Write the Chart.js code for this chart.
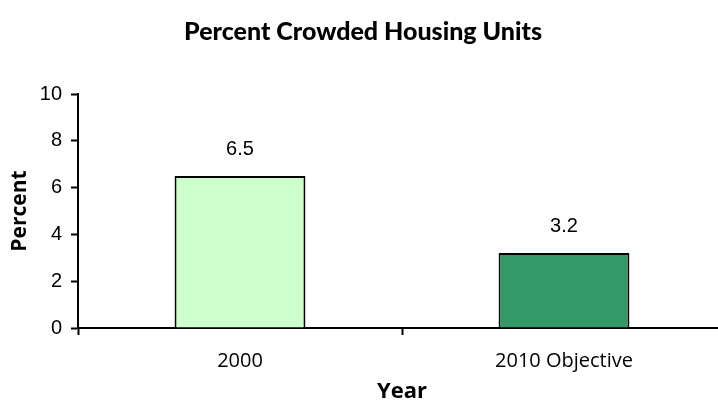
<!DOCTYPE html>
<html>
<head>
<meta charset="utf-8">
<script src="https://cdn.jsdelivr.net/npm/chart.js@4"></script>
<style>
  html, body { margin: 0; padding: 0; background: #fff; overflow: hidden; }
  #wrap { width: 726px; height: 402px; }
</style>
</head>
<body>
<div id="wrap"><canvas id="c"></canvas></div>
<script>
// Crowded housing share, baseline year vs. target
const categories = ['2000', '2010 Objective'];
const percentValues = [6.5, 3.2];
const barColors = ['#CCFFCC', '#339966'];
const yTickValues = [0, 2, 4, 6, 8, 10];

const sansNum = "'Liberation Sans', Arial, sans-serif";
const sansHead = "Lato, 'Open Sans', sans-serif";
const sansText = "'Open Sans', sans-serif";

// Writes each bar's value above it
const valueLabels = {
  id: 'valueLabels',
  afterDatasetsDraw(chart) {
    const ctx = chart.ctx;
    const meta = chart.getDatasetMeta(0);
    ctx.save();
    ctx.font = '20px ' + sansNum;
    ctx.fillStyle = '#000';
    ctx.textAlign = 'center';
    ctx.textBaseline = 'alphabetic';
    meta.data.forEach((bar, i) => {
      const v = chart.data.datasets[0].data[i];
      ctx.fillText(v.toFixed(1), bar.x, bar.y - 21);
    });
    ctx.restore();
  }
};

new Chart(document.getElementById('c'), {
  type: 'bar',
  data: {
    labels: categories,
    datasets: [{
      data: percentValues,
      backgroundColor: barColors,
      borderColor: '#000',
      borderWidth: 2,
      borderSkipped: 'bottom',
      categoryPercentage: 1,
      barPercentage: 0.404
    }]
  },
  options: {
    responsive: true,
    maintainAspectRatio: false,
    animation: false,
    layout: { padding: 0 },
    plugins: {
      legend: { display: false },
      tooltip: { enabled: false },
      title: {
        display: true,
        text: 'Percent Crowded Housing Units',
        color: '#000',
        font: { family: sansHead, size: 25, weight: '900' },
        padding: { top: 17, bottom: 47 }
      }
    },
    scales: {
      x: {
        grid: {
          offset: true,
          drawOnChartArea: false,
          drawTicks: true,
          tickLength: 7,
          tickWidth: 2,
          color: '#000'
        },
        border: { display: true, color: '#000', width: 2 },
        ticks: {
          color: '#000',
          font: { family: sansText, size: 20 },
          padding: 14,
          maxRotation: 0
        },
        title: {
          display: true,
          text: 'Year',
          color: '#000',
          font: { family: sansText, size: 22, weight: 'bold' },
          padding: { top: 0, bottom: -3 }
        },
        afterFit(scale) { scale.height = 74; }
      },
      y: {
        min: 0,
        max: 10,
        afterBuildTicks(scale) {
          scale.ticks = yTickValues.map(v => ({ value: v }));
        },
        grid: {
          drawOnChartArea: false,
          drawTicks: true,
          tickLength: 7,
          tickWidth: 2,
          color: '#000'
        },
        border: { display: true, color: '#000', width: 2 },
        ticks: {
          color: '#000',
          font: { family: sansNum, size: 20 },
          padding: 9
        },
        title: {
          display: true,
          text: 'Percent',
          color: '#000',
          font: { family: sansText, size: 21, weight: 'bold' },
          padding: { top: 7, bottom: 0 }
        },
        afterFit(scale) { scale.width = 78; }
      }
    }
  },
  plugins: [valueLabels]
});
</script>
</body>
</html>
